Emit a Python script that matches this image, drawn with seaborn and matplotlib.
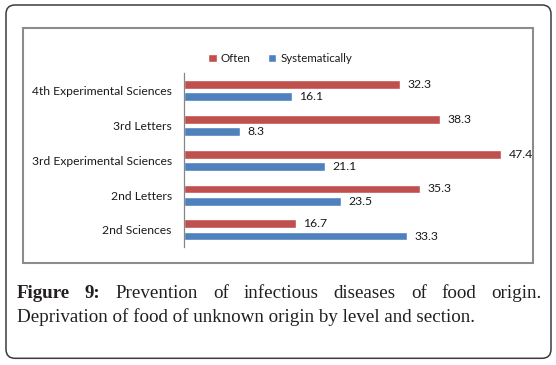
import pandas as pd
import seaborn as sns
import matplotlib.pyplot as plt
from matplotlib.patches import Rectangle, FancyBboxPatch

## Horizontal grouped bars: prevention of food-borne infections,
## deprivation of food of unknown origin, by level and section.

levels = ["4th Experimental Sciences", "3rd Letters", "3rd Experimental Sciences",
          "2nd Letters", "2nd Sciences"]
often = [32.3, 38.3, 47.4, 35.3, 16.7]
systematically = [16.1, 8.3, 21.1, 23.5, 33.3]
series = ["Often", "Systematically"]
colors = ["#C0504D", "#4F81BD"]

caption_bold = ["Figure", "9:"]
caption_line1 = ["Prevention", "of", "infectious", "diseases", "of", "food", "origin."]
caption_line2 = "Deprivation of food of unknown origin by level and section."

df = pd.DataFrame({
    "Level": levels * 2,
    "Value": often + systematically,
    "Series": [series[0]] * len(levels) + [series[1]] * len(levels),
})

sns.set_style("white")
plt.rcParams["font.family"] = ["Lato", "DejaVu Sans"]

W, H = 556, 365
fig = plt.figure(figsize=(W / 100, H / 100), dpi=100)

# frames (pixel based, in inches)
outer = FancyBboxPatch((0.06, 0.067), 5.45, 3.533,
                       boxstyle="round,pad=0,rounding_size=0.09",
                       transform=fig.dpi_scale_trans, fill=False,
                       edgecolor="#3c3c3c", lw=1.1)
fig.patches.append(outer)
inner = Rectangle((0.227, 1.023), 5.106, 2.344, transform=fig.dpi_scale_trans,
                  fill=False, edgecolor="#8c8c8c", lw=1.5)
fig.patches.append(inner)

ax = fig.add_axes([184.3 / W, 1 - 247.3 / H, 334 / W, 174 / H])
sns.barplot(data=df, y="Level", x="Value", hue="Series", hue_order=series,
            order=levels, palette=colors, orient="h", width=0.706, gap=0.29,
            saturation=1, ax=ax)

ax.set_xlim(0, 50)
ax.set_xlabel("")
ax.set_ylabel("")
ax.set_xticks([])
ax.tick_params(axis="y", length=0, pad=9, labelsize=8.7, labelcolor="#1a1a1a")
for s in ["top", "right", "bottom"]:
    ax.spines[s].set_visible(False)
ax.spines["left"].set_color("#868686")
ax.spines["left"].set_linewidth(0.9)

for cont in ax.containers:
    ax.bar_label(cont, fmt="%.1f", padding=5.5, fontsize=8.8, color="#1a1a1a")

handles, labels = ax.get_legend_handles_labels()
ax.legend(handles, labels, ncol=2, loc="center",
          bbox_to_anchor=(280 / W, 1 - 58.3 / H), bbox_transform=fig.transFigure,
          frameon=False, fontsize=8.3, handlelength=0.75, handleheight=0.75,
          handletextpad=0.35, columnspacing=1.5, labelcolor="#1a1a1a")

# caption, first line justified
renderer = fig.canvas.get_renderer()
cap_kw = dict(fontsize=13.7, family="Liberation Serif", color="#231f20", va="baseline")
words = [(w, "bold") for w in caption_bold] + [(w, "normal") for w in caption_line1]
x_left, x_right = 16.7, 541.7
texts = []
for w, weight in words:
    t = fig.text(0, 1 - 298.3 / H, w, fontweight=weight, **cap_kw)
    texts.append(t)
widths = [t.get_window_extent(renderer).width for t in texts]
gap = (x_right - x_left - sum(widths)) / (len(texts) - 1)
x = x_left
for t, wd in zip(texts, widths):
    t.set_x(x / W)
    x += wd + gap
fig.text(x_left / W, 1 - 321.7 / H, caption_line2, **cap_kw)

fig.savefig("out.png", dpi=100)
